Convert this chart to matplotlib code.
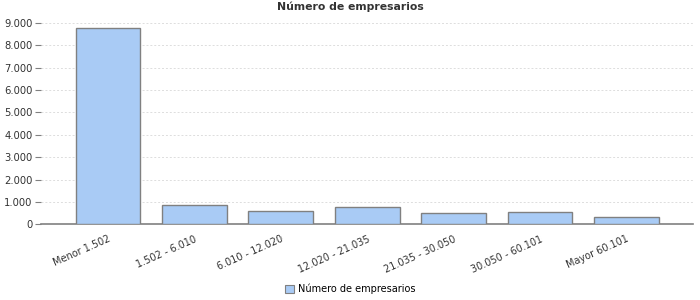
import matplotlib
matplotlib.use("Agg")
import matplotlib.pyplot as plt
from matplotlib.patches import Patch

categories = ["Menor 1.502", "1.502 - 6.010", "6.010 - 12.020", "12.020 - 21.035",
              "21.035 - 30.050", "30.050 - 60.101", "Mayor 60.101"]
values = [8760, 880, 610, 790, 490, 535, 315]
yticks = [0, 1000, 2000, 3000, 4000, 5000, 6000, 7000, 8000, 9000]
ytick_labels = ["0", "1.000", "2.000", "3.000", "4.000", "5.000", "6.000", "7.000", "8.000", "9.000"]
title = "Número de empresarios"
series_name = "Número de empresarios"

bar_color = "#A9CBF5"
edge_color = "#808080"

fig = plt.figure(figsize=(7, 3), dpi=100)
ax = fig.add_axes([41/700, 1 - 224.3/300, (693 - 41)/700, (224.3 - 18.5)/300])

x = list(range(len(categories)))
ax.bar(x, values, width=0.75, color=bar_color, edgecolor=edge_color, linewidth=1.0, zorder=3)

ax.set_xlim(-0.775, len(categories) - 1 + 0.77)
ax.set_ylim(0, 9200)
ax.set_yticks(yticks)
ax.set_yticklabels(ytick_labels, fontsize=7.2, color="#333333")
ax.yaxis.grid(True, linestyle=(0, (2, 2)), color="#DDDDDD", linewidth=0.7, zorder=0)
ax.tick_params(axis="y", length=4, width=0.8, color="#808080", pad=2)

ax.set_xticks(x)
ax.set_xticklabels(categories, rotation=24, ha="right", rotation_mode="anchor",
                   fontsize=7, color="#333333")
ax.tick_params(axis="x", length=0, pad=7)

for side in ["left", "right", "top"]:
    ax.spines[side].set_visible(False)
ax.spines["bottom"].set_color("#808080")
ax.spines["bottom"].set_linewidth(1.2)

fig.text(0.5, 1 - 7/300, title, ha="center", va="center", fontsize=7.8, fontweight="bold", color="#333333")

handle = Patch(facecolor=bar_color, edgecolor=edge_color, linewidth=0.8)
fig.legend([handle], [series_name], loc="center", bbox_to_anchor=(0.5, 1 - 289/300),
           frameon=False, fontsize=7, handlelength=0.9, handleheight=0.9, handletextpad=0.4)

fig.savefig("out.png", dpi=100)
